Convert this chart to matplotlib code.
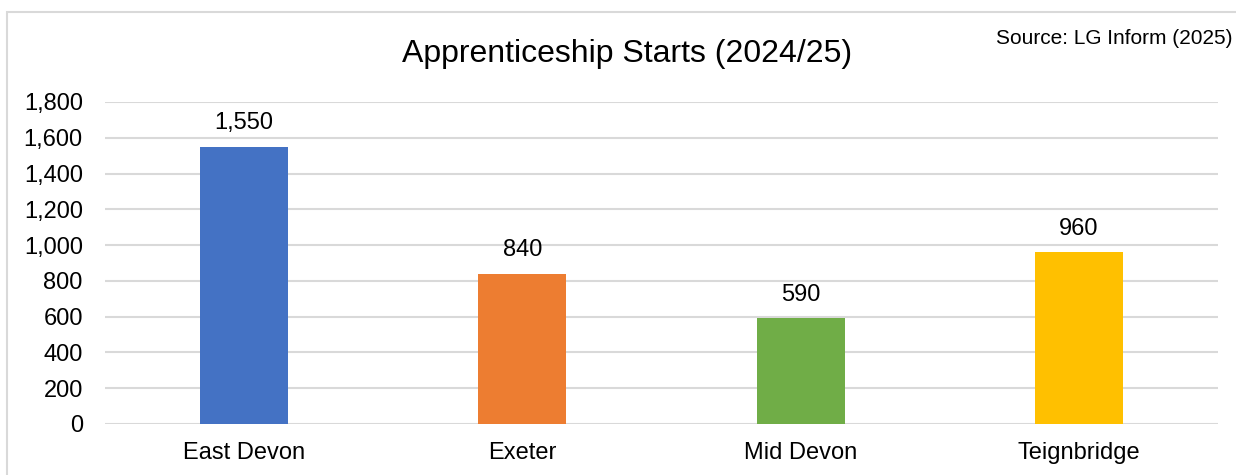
import matplotlib
matplotlib.use("Agg")
import matplotlib.pyplot as plt
import matplotlib.patches as patches
import numpy as np

# data
areas = ["East Devon", "Exeter", "Mid Devon", "Teignbridge"]
starts = [1550, 840, 590, 960]
colours = ["#4472C4", "#ED7D31", "#70AD47", "#FFC000"]
yticks = [0, 200, 400, 600, 800, 1000, 1200, 1400, 1600, 1800]

plt.rcParams['font.family'] = ['Liberation Sans', 'DejaVu Sans']

fig = plt.figure(figsize=(12.36, 4.75), dpi=100)
ax = fig.add_axes([0.085, 0.1074, 0.9004, 0.678])

x = np.arange(len(areas))
bars = ax.bar(x, starts, width=0.316, color=colours, zorder=3)

for b, v in zip(bars, starts):
    ax.annotate(f"{v:,}", (b.get_x() + b.get_width() / 2, v),
                xytext=(0, 9), textcoords="offset points",
                ha="center", va="bottom", fontsize=17, color="black")

ax.set_xlim(-0.5, len(areas) - 0.5)
ax.set_ylim(0, 1800)
ax.set_yticks(yticks)
ax.set_yticklabels([f"{t:,}" for t in yticks], fontsize=17)
ax.set_xticks(x)
ax.set_xticklabels(areas, fontsize=17)
ax.tick_params(axis="y", length=0, pad=16)
ax.tick_params(axis="x", length=0, pad=13)
ax.grid(axis="y", color="#D9D9D9", linewidth=1.5, zorder=0)
for s in ax.spines.values():
    s.set_visible(False)

fig.text(0.507, 0.887, "Apprenticeship Starts (2024/25)", ha="center", va="center",
         fontsize=23)
fig.text(0.997, 0.918, "Source: LG Inform (2025)", ha="right", va="center",
         fontsize=15)

# light border of the chart frame
border = patches.Rectangle((0.0057, -0.1), 1.2, 1.0747, transform=fig.transFigure,
                           fill=False, edgecolor="#D9D9D9", linewidth=1.5)
fig.patches.append(border)

fig.savefig("out.png", dpi=100)
